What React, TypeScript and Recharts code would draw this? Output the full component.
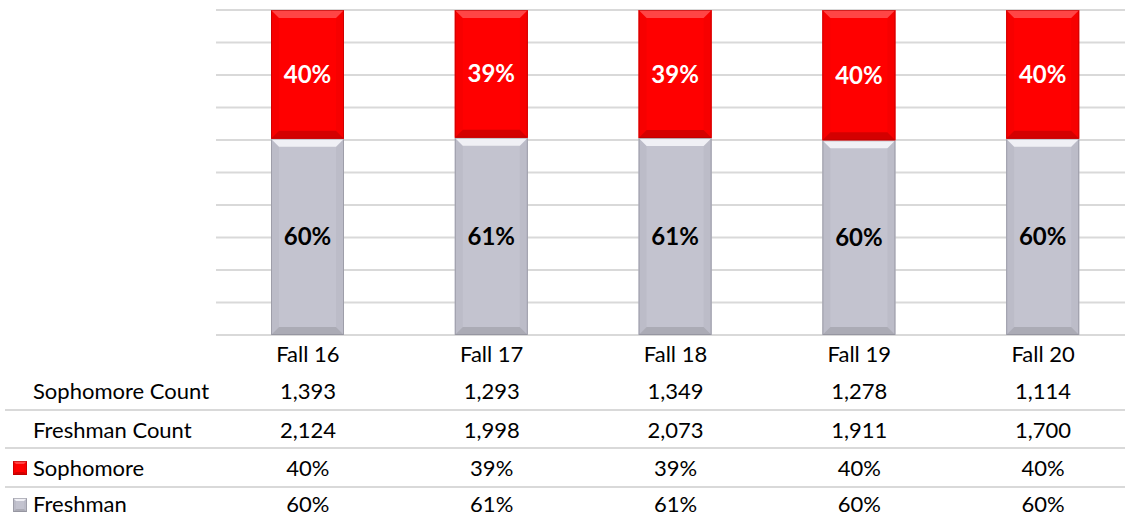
import React from "react";
import { BarChart, Bar, XAxis, YAxis, CartesianGrid, LabelList, Customized } from "recharts";

const categories = ["Fall 16", "Fall 17", "Fall 18", "Fall 19", "Fall 20"];
const sophomoreCount = [1393, 1293, 1349, 1278, 1114];
const freshmanCount = [2124, 1998, 2073, 1911, 1700];
const sophomorePct = [39.6, 39.3, 39.4, 40.1, 39.6];
const freshmanPct = [60.4, 60.7, 60.6, 59.9, 60.4];
const sophomoreLabel = ["40%", "39%", "39%", "40%", "40%"];
const freshmanLabel = ["60%", "61%", "61%", "60%", "60%"];
const yTicks = [0, 10, 20, 30, 40, 50, 60, 70, 80, 90, 100];

const rowHeaders = ["Sophomore Count", "Freshman Count", "Sophomore", "Freshman"];

const data = categories.map((c, i) => ({
  category: c,
  freshman: freshmanPct[i],
  sophomore: sophomorePct[i],
  freshmanLabel: freshmanLabel[i],
  sophomoreLabel: sophomoreLabel[i],
}));

const FONT = "Lato, 'Open Sans', sans-serif";
const ROW_Y = [390, 429, 467, 503];
const CAT_Y = 353;

type Pal = { fill: string; top: string; bottom: string; side: string; edge: string };
const RED: Pal = { fill: "#ff0000", top: "#ff4545", bottom: "#d40000", side: "#f70000", edge: "#b00000" };
const GREY: Pal = { fill: "#c3c3cf", top: "#f0f0f5", bottom: "#ababb5", side: "#bcbcc8", edge: "#85858f" };

function bevel(x: number, y: number, w: number, h: number, p: Pal, b: number, key?: string) {
  const bb = Math.min(b, h / 2, w / 2);
  return (
    <g key={key}>
      <rect x={x} y={y} width={w} height={h} fill={p.fill} />
      <polygon points={`${x},${y} ${x + bb},${y + bb} ${x + bb},${y + h - bb} ${x},${y + h}`} fill={p.side} />
      <polygon points={`${x + w},${y} ${x + w - bb},${y + bb} ${x + w - bb},${y + h - bb} ${x + w},${y + h}`} fill={p.side} />
      <polygon points={`${x},${y} ${x + w},${y} ${x + w - bb},${y + bb} ${x + bb},${y + bb}`} fill={p.top} />
      <polygon points={`${x},${y + h} ${x + w},${y + h} ${x + w - bb},${y + h - bb} ${x + bb},${y + h - bb}`} fill={p.bottom} />
      <rect x={x + 0.5} y={y + 0.5} width={w - 1} height={h - 1} fill="none" stroke={p.edge} strokeWidth={1} strokeOpacity={0.55} />
    </g>
  );
}

const RedShape = (props: any) => bevel(props.x, props.y, props.width, props.height, RED, 8);
const GreyShape = (props: any) => (
  <g>
    <rect x={props.x + 2} y={props.y + props.height} width={props.width} height={3} fill="#000" opacity={0.08} />
    {bevel(props.x, props.y, props.width, props.height, GREY, 8)}
  </g>
);

const TableTick = (props: any) => {
  const { x, index } = props;
  const vals = [
    sophomoreCount[index].toLocaleString("en-US"),
    freshmanCount[index].toLocaleString("en-US"),
    sophomoreLabel[index],
    freshmanLabel[index],
  ];
  return (
    <g>
      <text x={x} y={CAT_Y} textAnchor="middle" dominantBaseline="central" fontFamily={FONT} fontSize={22} fill="#000">
        {categories[index]}
      </text>
      {vals.map((v, i) => (
        <text key={i} x={x} y={ROW_Y[i]} textAnchor="middle" dominantBaseline="central" fontFamily={FONT} fontSize={22} fill="#000">
          {v}
        </text>
      ))}
    </g>
  );
};

const TableFrame = () => (
  <g>
    {[410, 448, 487].map((y) => (
      <line key={y} x1={5} x2={1140} y1={y} y2={y} stroke="#d9d9d9" strokeWidth={2} />
    ))}
    {rowHeaders.map((h, i) => (
      <text key={h} x={33} y={ROW_Y[i]} dominantBaseline="central" fontFamily={FONT} fontSize={22} fill="#000">
        {h}
      </text>
    ))}
    {bevel(13, 461, 14, 14, RED, 3, "lr")}
    {bevel(13, 498, 14, 14, GREY, 3, "lg")}
  </g>
);

export default function App() {
  return (
    <div style={{ position: "absolute", left: 0, top: 0, width: 1125, height: 516, overflow: "hidden", background: "#fff" }}>
      <BarChart
        width={1140}
        height={516}
        data={data}
        margin={{ top: 10, right: 5, bottom: 0, left: 216 }}
        barSize={73}
      >
        <CartesianGrid horizontal vertical={false} stroke="#d9d9d9" strokeWidth={2} />
        <YAxis hide domain={[0, 100]} ticks={yTicks} type="number" allowDataOverflow />
        <XAxis
          dataKey="category"
          height={181}
          axisLine={false}
          tickLine={false}
          interval={0}
          tick={<TableTick />}
        />
        <Bar dataKey="freshman" stackId="a" shape={<GreyShape />} isAnimationActive={false}>
          <LabelList dataKey="freshmanLabel" position="center" fill="#000" fontFamily={FONT} fontWeight="bold" fontSize={24} />
        </Bar>
        <Bar dataKey="sophomore" stackId="a" shape={<RedShape />} isAnimationActive={false}>
          <LabelList dataKey="sophomoreLabel" position="center" fill="#fff" fontFamily={FONT} fontWeight="bold" fontSize={24} />
        </Bar>
        <Customized component={<TableFrame />} />
      </BarChart>
    </div>
  );
}
